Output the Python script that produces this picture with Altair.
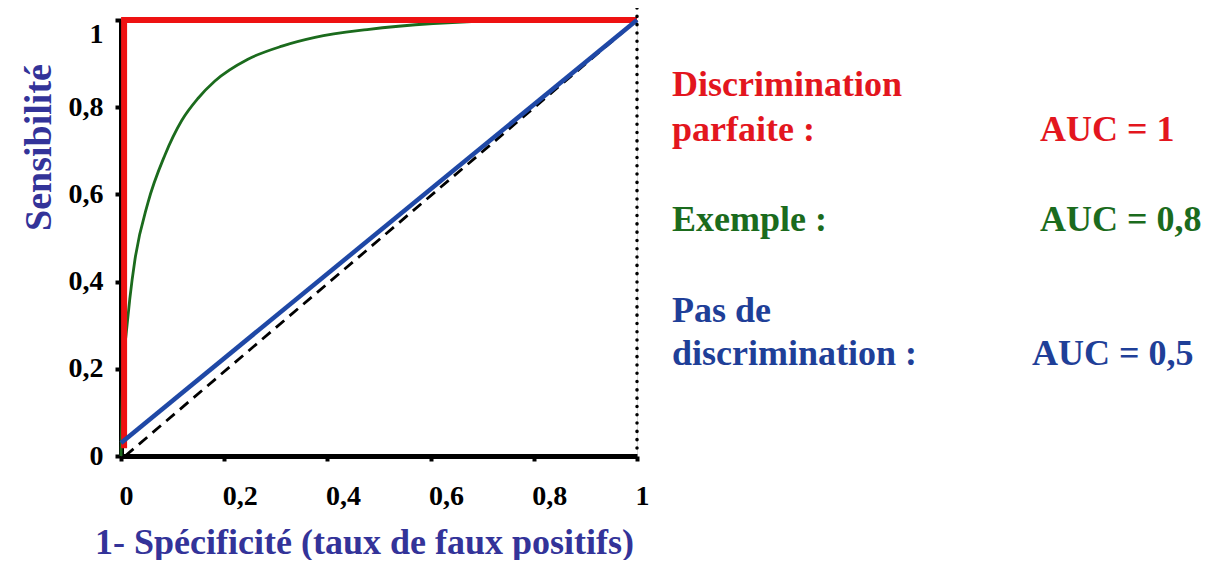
import altair as alt
import pandas as pd

# ---- data ----
perfect_x = [0.006, 0.006, 1.0]
perfect_y = [0.018, 1.0, 1.0]

example_x = [0.0, 0.004, 0.010, 0.017, 0.027, 0.052, 0.085, 0.118, 0.149, 0.182,
             0.246, 0.312, 0.376, 0.477, 0.605, 0.81, 1.0]
example_y = [0.0, 0.2, 0.28, 0.36, 0.45, 0.58, 0.69, 0.77, 0.82, 0.86,
             0.91, 0.94, 0.96, 0.978, 0.992, 1.0, 1.0]

nodisc_x = [0.0, 1.0]
nodisc_y = [0.03, 1.0]

chance_x = [0.008, 1.0]
chance_y = [0.0, 1.0]

tick_values = [0, 0.2, 0.4, 0.6, 0.8, 1]

RED = "#ee1111"
RED_TXT = "#e3161e"
GREEN = "#1b6b1d"
BLUE = "#1f48a6"
BLUE_TXT = "#1f3f98"
TITLE = "#333399"
FONT = "Liberation Serif"

W, H = 516, 436

xs = alt.Scale(domain=[0, 1], nice=False)
ys = alt.Scale(domain=[0, 1], nice=False)

label_expr = "replace(format(datum.value, '.1~f'), '.', ',')"

x_axis = alt.Axis(
    values=tick_values, labelExpr=label_expr, grid=False,
    domainColor="black", domainWidth=5, tickColor="black", tickWidth=4, tickSize=5,
    labelFont=FONT, labelFontWeight="bold", labelFontSize=28, labelColor="black",
    labelAlign="left", labelBaseline="top", labelPadding=21, labelOffset=-2,
    title="1- Spécificité (taux de faux positifs)", titleFont=FONT, titleFontWeight="bold",
    titleFontSize=36, titleColor=TITLE, titleX=243, titleY=97,
    titleBaseline="alphabetic", titleAlign="center",
)
y_axis = alt.Axis(
    values=tick_values, labelExpr=label_expr, grid=False,
    domainColor="black", domainWidth=5, tickColor="black", tickWidth=4, tickSize=6,
    labelFont=FONT, labelFontWeight="bold", labelFontSize=28, labelColor="black",
    labelAlign="right", labelBaseline="middle", labelPadding=12,
    labelOffset={"condition": {"test": "datum.value == 1", "value": 14}, "value": 0},
    title="Sensibilité", titleFont=FONT, titleFontWeight="bold",
    titleFontSize=38, titleColor=TITLE, titleX=-71, titleY=127,
    titleBaseline="alphabetic", titleAlign="center",
)

X = alt.X("x:Q", scale=xs, axis=x_axis)
Y = alt.Y("y:Q", scale=ys, axis=y_axis)


def line(xv, yv, color, width, dash=None):
    df = pd.DataFrame({"x": xv, "y": yv, "o": list(range(len(xv)))})
    kw = dict(color=color, strokeWidth=width, interpolate="monotone", clip=False)
    if dash:
        kw["strokeDash"] = dash
    return alt.Chart(df).mark_line(**kw).encode(x=X, y=Y, order="o:Q")


dotted = alt.Chart(pd.DataFrame({"x": [1]})).mark_rule(
    color="black", strokeWidth=3.5, strokeDash=[0.1, 8.2], strokeCap="round"
).encode(x=X, y=alt.value(-12), y2=alt.value(H))

chance = line(chance_x, chance_y, "black", 2.8, dash=[11, 7])
example = line(example_x, example_y, GREEN, 2.8)
perfect = line(perfect_x, perfect_y, RED, 6)
nodisc = line(nodisc_x, nodisc_y, BLUE, 4.5)


def txt(t, x, y, color):
    return alt.Chart(pd.DataFrame({"t": [t]})).mark_text(
        font=FONT, fontWeight="bold", fontSize=36, color=color,
        align="left", baseline="alphabetic",
    ).encode(text="t:N", x=alt.value(x), y=alt.value(y))


texts = [
    txt("Discrimination", 551, 76, RED_TXT),
    txt("parfaite :", 551, 121, RED_TXT),
    txt("AUC = 1", 919, 121, RED_TXT),
    txt("Exemple :", 551, 211, GREEN),
    txt("AUC = 0,8", 919, 211, GREEN),
    txt("Pas de", 551, 302, BLUE_TXT),
    txt("discrimination :", 551, 345, BLUE_TXT),
    txt("AUC = 0,5", 911, 345, BLUE_TXT),
]

chart = alt.layer(chance, example, perfect, nodisc, dotted, *texts).properties(
    width=W, height=H,
    autosize=alt.AutoSizeParams(type="none"),
    padding={"left": 113, "top": 12, "right": 573, "bottom": 104},
).configure_view(stroke=None).configure(background="white")

chart.save("out.html", embed_options={"renderer": "svg", "actions": False})
